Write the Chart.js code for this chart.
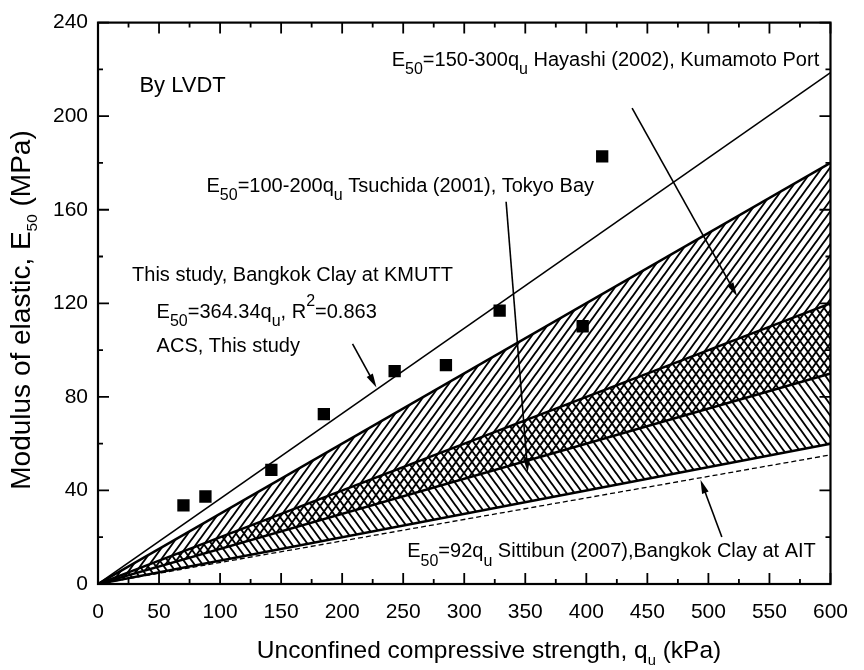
<!DOCTYPE html>
<html>
<head>
  <title>E50 vs qu</title>
  <script src="https://cdn.jsdelivr.net/npm/chart.js"></script>
  <style>
    body { margin: 0; background: #fff; }
    #wrap { width: 864px; height: 670px; }
  </style>
</head>
<body>
  <div id="wrap">
    <canvas id="e50Chart" width="864" height="670"></canvas>
  </div>

  <script>
    const quRange = [0, 600];
    const acsFit = [0, 218.6];        // 364.34 qu
    const hayashiUpper = [0, 180];    // 300 qu
    const hayashiLower = [0, 90];     // 150 qu
    const tsuchidaUpper = [0, 120];   // 200 qu
    const tsuchidaLower = [0, 60];    // 100 qu
    const sittibunLine = [0, 55.2];   // 92 qu

    // test points (LVDT)
    const testQu = [70, 88, 142, 185, 243, 285, 329, 397, 413];
    const testE50 = [33.6, 37.4, 48.8, 72.6, 91, 93.6, 116.9, 110.2, 182.8];

    const FONT = '"Liberation Sans", Arial, sans-serif';

    // text notes and arrows, placed in data units
    const notes = [
      { text: 'By LVDT', x: 33.9, y: 210.5, size: 22 },
      { text: 'E_{50}=150-300q_{u} Hayashi (2002), Kumamoto Port', x: 240.6, y: 221.6, size: 20 },
      { text: 'E_{50}=100-200q_{u} Tsuchida (2001), Tokyo Bay', x: 88.9, y: 167.7, size: 20 },
      { text: 'This study, Bangkok Clay at KMUTT', x: 27.9, y: 129.7, size: 20 },
      { text: 'E_{50}=364.34q_{u}, R^{2}=0.863', x: 48, y: 113.7, size: 20 },
      { text: 'ACS, This study', x: 48, y: 99.3, size: 20 },
      { text: 'E_{50}=92q_{u} Sittibun (2007),Bangkok Clay at AIT', x: 253.3, y: 11.4, size: 20 }
    ];
    const arrows = [
      { from: [437.5, 203.4], to: [523.5, 123] },
      { from: [334.3, 163.4], to: [352, 47.8] },
      { from: [208.5, 102.7], to: [228.1, 84] },
      { from: [511, 20.1], to: [493.5, 44.6] }
    ];

    function pts(ys) {
      return quRange.map((q, i) => ({ x: q, y: ys[i] }));
    }

    // hatch patterns for the bands
    function hatch(dir) {
      const w = 8, h = 11;
      const c = document.createElement('canvas');
      c.width = w; c.height = h;
      const g = c.getContext('2d');
      g.strokeStyle = '#000';
      g.lineWidth = 1.9;
      g.beginPath();
      if (dir === '/') {
        g.moveTo(-w, 2 * h); g.lineTo(2 * w, -h);
        g.moveTo(-2 * w, 2 * h); g.lineTo(w, -h);
        g.moveTo(0, 2 * h); g.lineTo(3 * w, -h);
      } else {
        g.moveTo(-w, -h); g.lineTo(2 * w, 2 * h);
        g.moveTo(-2 * w, -h); g.lineTo(w, 2 * h);
        g.moveTo(0, -h); g.lineTo(3 * w, 2 * h);
      }
      g.stroke();
      return g.createPattern(c, 'repeat');
    }

    // split 'E_{50}' style strings into parts
    function parseRich(s) {
      const parts = [];
      const re = /([_^])\{([^}]*)\}/g;
      let last = 0, m;
      while ((m = re.exec(s))) {
        if (m.index > last) parts.push({ t: s.slice(last, m.index) });
        parts.push({ t: m[2], mode: m[1] });
        last = re.lastIndex;
      }
      if (last < s.length) parts.push({ t: s.slice(last) });
      return parts;
    }

    function richWidth(ctx, parts, size, subScale) {
      let w = 0;
      parts.forEach(p => {
        const fs = p.mode ? size * subScale : size;
        ctx.font = fs + 'px ' + FONT;
        w += ctx.measureText(p.t).width;
      });
      return w;
    }

    function drawRich(ctx, x, y, text, size, subScale, subDrop) {
      const parts = parseRich(text);
      let cx = x;
      ctx.textAlign = 'left';
      ctx.textBaseline = 'alphabetic';
      parts.forEach(p => {
        const fs = p.mode ? size * subScale : size;
        ctx.font = fs + 'px ' + FONT;
        let dy = 0;
        if (p.mode === '_') dy = size * subDrop;
        if (p.mode === '^') dy = -size * 0.58;
        ctx.fillText(p.t, cx, y + dy);
        cx += ctx.measureText(p.t).width;
      });
    }

    const decorPlugin = {
      id: 'decor',
      afterDatasetsDraw(chart) {
        const ctx = chart.ctx;
        const xs = chart.scales.x, ys = chart.scales.y;
        ctx.save();
        ctx.fillStyle = '#000';
        notes.forEach(n => {
          drawRich(ctx, xs.getPixelForValue(n.x), ys.getPixelForValue(n.y), n.text, n.size, 0.8, 0.42);
        });
        // arrows
        ctx.strokeStyle = '#000';
        ctx.lineWidth = 1.6;
        arrows.forEach(a => {
          const x1 = xs.getPixelForValue(a.from[0]), y1 = ys.getPixelForValue(a.from[1]);
          const x2 = xs.getPixelForValue(a.to[0]), y2 = ys.getPixelForValue(a.to[1]);
          const ang = Math.atan2(y2 - y1, x2 - x1);
          const len = 14, half = 3.5;
          ctx.beginPath();
          ctx.moveTo(x1, y1);
          ctx.lineTo(x2 - len * 0.6 * Math.cos(ang), y2 - len * 0.6 * Math.sin(ang));
          ctx.stroke();
          ctx.beginPath();
          ctx.moveTo(x2, y2);
          ctx.lineTo(x2 - len * Math.cos(ang) + half * Math.sin(ang), y2 - len * Math.sin(ang) - half * Math.cos(ang));
          ctx.lineTo(x2 - len * Math.cos(ang) - half * Math.sin(ang), y2 - len * Math.sin(ang) + half * Math.cos(ang));
          ctx.closePath();
          ctx.fill();
        });
        ctx.restore();
      },
      afterDraw(chart) {
        const ctx = chart.ctx;
        const a = chart.chartArea;
        const xs = chart.scales.x, ys = chart.scales.y;
        ctx.save();
        ctx.strokeStyle = '#000';
        ctx.lineWidth = 2.2;
        ctx.strokeRect(a.left, a.top, a.right - a.left, a.bottom - a.top);
        // inward ticks on all four sides
        ctx.lineWidth = 1.8;
        ctx.beginPath();
        for (let v = 0; v <= 600; v += 25) {
          const px = xs.getPixelForValue(v);
          const len = v % 50 === 0 ? 11 : 5;
          ctx.moveTo(px, a.bottom); ctx.lineTo(px, a.bottom - len);
          ctx.moveTo(px, a.top); ctx.lineTo(px, a.top + len);
        }
        for (let v = 0; v <= 240; v += 20) {
          const py = ys.getPixelForValue(v);
          const len = v % 40 === 0 ? 11 : 5;
          ctx.moveTo(a.left, py); ctx.lineTo(a.left + len, py);
          ctx.moveTo(a.right, py); ctx.lineTo(a.right - len, py);
        }
        ctx.stroke();

        // axis titles
        ctx.fillStyle = '#000';
        const xTitle = 'Unconfined compressive strength, q_{u} (kPa)';
        const xw = richWidth(ctx, parseRich(xTitle), 24.5, 0.6);
        drawRich(ctx, 489 - xw / 2, 658, xTitle, 24.5, 0.6, 0.3);

        const yTitle = 'Modulus of elastic, E_{50} (MPa)';
        const yw = richWidth(ctx, parseRich(yTitle), 28, 0.55);
        ctx.translate(30, 310);
        ctx.rotate(-Math.PI / 2);
        drawRich(ctx, -yw / 2, 0, yTitle, 28, 0.55, 0.25);
        ctx.restore();
      }
    };

    const ctx = document.getElementById('e50Chart').getContext('2d');

    new Chart(ctx, {
      type: 'scatter',
      data: {
        datasets: [
          {
            label: 'LVDT',
            data: testQu.map((q, i) => ({ x: q, y: testE50[i] })),
            pointStyle: 'rect',
            pointRadius: 8.7,
            backgroundColor: '#000',
            borderColor: '#000',
            borderWidth: 0
          },
          {
            label: 'ACS 364.34qu',
            data: pts(acsFit),
            showLine: true,
            pointRadius: 0,
            borderColor: '#000',
            borderWidth: 1.5
          },
          {
            label: 'Hayashi upper',
            data: pts(hayashiUpper),
            showLine: true,
            pointRadius: 0,
            borderColor: '#000',
            borderWidth: 2.5,
            fill: '+1',
            backgroundColor: hatch('/')
          },
          {
            label: 'Hayashi lower',
            data: pts(hayashiLower),
            showLine: true,
            pointRadius: 0,
            borderColor: '#000',
            borderWidth: 2.5
          },
          {
            label: 'Tsuchida upper',
            data: pts(tsuchidaUpper),
            showLine: true,
            pointRadius: 0,
            borderColor: '#000',
            borderWidth: 2.5,
            fill: '+1',
            backgroundColor: hatch('\\')
          },
          {
            label: 'Tsuchida lower',
            data: pts(tsuchidaLower),
            showLine: true,
            pointRadius: 0,
            borderColor: '#000',
            borderWidth: 2.5
          },
          {
            label: 'Sittibun 92qu',
            data: pts(sittibunLine),
            showLine: true,
            pointRadius: 0,
            borderColor: '#000',
            borderWidth: 1.3,
            borderDash: [5, 3]
          }
        ]
      },
      options: {
        responsive: false,
        animation: false,
        devicePixelRatio: 1,
        layout: { padding: { top: 20, right: 17, left: 0, bottom: 0 } },
        plugins: {
          legend: { display: false },
          tooltip: { enabled: false }
        },
        scales: {
          x: {
            type: 'linear',
            min: 0,
            max: 600,
            afterFit: s => { s.height = 86; },
            grid: { display: false, drawTicks: false },
            border: { display: false },
            ticks: {
              stepSize: 50,
              padding: 16,
              maxRotation: 0,
              color: '#000',
              font: { family: FONT, size: 21 }
            }
          },
          y: {
            type: 'linear',
            min: 0,
            max: 240,
            afterFit: s => { s.width = 98; },
            grid: { display: false, drawTicks: false },
            border: { display: false },
            ticks: {
              stepSize: 40,
              padding: 10,
              color: '#000',
              font: { family: FONT, size: 21 }
            }
          }
        }
      },
      plugins: [decorPlugin]
    });
  </script>
</body>
</html>
